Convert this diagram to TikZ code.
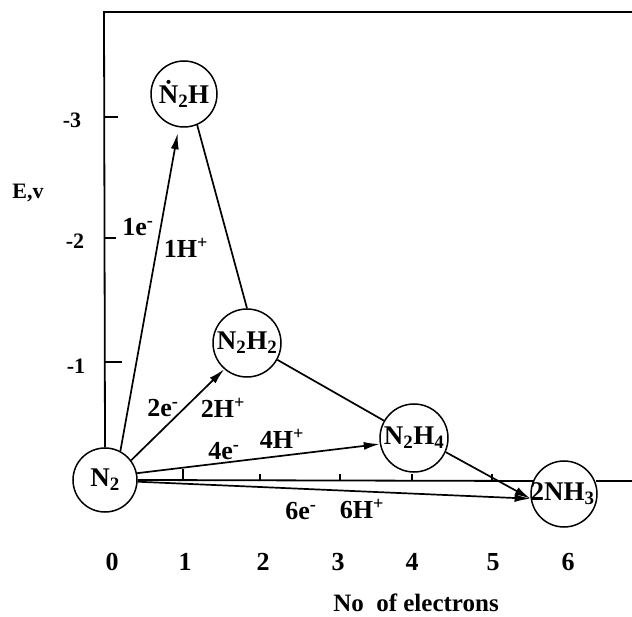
\documentclass[tikz,border=0pt]{standalone}
\usepackage{fontspec}
\setmainfont{Liberation Serif}
\usetikzlibrary{arrows.meta}
\begin{document}
\begin{tikzpicture}[x=1pt,y=-1pt,
  mol/.style={circle,draw,line width=1.5pt,minimum size=66pt,inner sep=0pt,font=\bfseries\fontsize{27}{27}\selectfont},
  lab/.style={font=\bfseries\fontsize{26}{26}\selectfont,inner sep=0pt},
  ylab/.style={font=\bfseries\fontsize{22}{22}\selectfont,inner sep=0pt},
  conn/.style={line width=1.7pt},
  arr/.style={conn,-{Latex[length=16pt,width=8pt]}},
  ax/.style={line width=1.8pt},
  tk/.style={line width=1.2pt}]
\useasboundingbox (0,0) rectangle (632,617);
% molecules
\node[mol,minimum size=64pt] (N2)   at (105,480) {N\textsubscript{2}};
\node[mol] (N2H)  at (184,94)  {\.{N}\textsubscript{2}H};
\node[mol,minimum size=68pt] (N2H2) at (247,343) {N\textsubscript{2}H\textsubscript{2}};
\node[mol,minimum size=68pt] (N2H4) at (414,438) {N\textsubscript{2}H\textsubscript{4}};
\node[mol] (NH3)  at (564,494) {\hspace{-3pt}2NH\textsubscript{3}\hspace{-3pt}};
% axes
\coordinate (ytop) at (104,12);
\coordinate (rtop) at (632,12);
\coordinate (xa) at (534,481);
\coordinate (xb) at (596,481);
\coordinate (xend) at (632,481);
\draw[ax] (N2.north) -- (ytop) -- (rtop);
\draw[ax] (N2.east) -- (xa);
\draw[ax] (xb) -- (xend);
% y ticks
\draw[tk] (104,117) -- (118,117);
\draw[tk] (104,238) -- (116,238);
\draw[tk] (104,362) -- (122,362);
% x ticks
\foreach \xx/\h in {183/12,260/7,340/7,412/7,492/7} \draw[tk] (\xx,481) -- (\xx,481-\h);
% y labels
\node[ylab] (ym3) at (72,120) {-3};
\node[ylab] (ym2) at (75,241) {-2};
\node[ylab] (ym1) at (76,366) {-1};
\node[font=\bfseries\fontsize{22}{22}\selectfont,inner sep=0pt] (ev) at (28,193) {E,v};
% x labels
\foreach \xx/\t in {112/0,185/1,263/2,338/3,412/4,493/5,568/6}
  \node[lab] (xl\t) at (\xx,562) {\t};
\node[font=\bfseries\fontsize{25}{25}\selectfont,inner sep=0pt] (xtitle) at (416,603) {No\ \ of electrons};
% connectors
\draw[arr,shorten >=6pt] (N2.62) -- (N2H.261);
\draw[conn] (N2H.293) -- (N2H2.90);
\draw[arr] (N2.37) -- (N2H2.229);
\draw[conn] (N2H2.331) -- (N2H4.150);
\draw[arr] (N2.12) -- (N2H4.190);
\draw[arr] (N2H4.336) -- (NH3.188);
\draw[arr] (N2.-3) -- (NH3.188);
% reaction labels
\node[lab] (l1e) at (138,227) {1e\textsuperscript{-}};
\node[lab] (l1h) at (186,248) {1H\textsuperscript{+}};
\node[lab] (l2e) at (163,408) {2e\textsuperscript{-}};
\node[lab] (l2h) at (223,408) {2H\textsuperscript{+}};
\node[lab] (l4e) at (224,451) {4e\textsuperscript{-}};
\node[lab] (l4h) at (282,439) {4H\textsuperscript{+}};
\node[lab] (l6e) at (301,511) {6e\textsuperscript{-}};
\node[lab] (l6h) at (362,509) {6H\textsuperscript{+}};
\end{tikzpicture}
\end{document}
